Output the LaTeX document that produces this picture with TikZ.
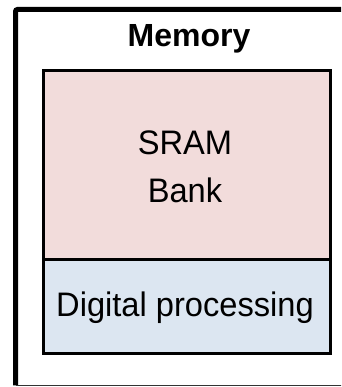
\documentclass[tikz,border=0pt]{standalone}
\usepackage{fontspec}
\setmainfont{Liberation Sans}
\newfontfamily\labelfont[FakeStretch=0.96]{Liberation Sans}
\definecolor{sramfill}{HTML}{F2DCDB}
\definecolor{procfill}{HTML}{DCE6F1}
\begin{document}
\begin{tikzpicture}[x=1pt,y=-1pt,
  block/.style={draw=black, line width=3pt, inner sep=0pt},
  lbl/.style={font=\labelfont\fontsize{34}{48}\selectfont, align=center, inner sep=0pt}]
\useasboundingbox (0,0) rectangle (341,387);
\clip (0,0) rectangle (341,387);
% outer memory frame (runs past the right edge)
\coordinate (frameTR) at (350,9.5);
\coordinate (frameTL) at (15.5,9.5);
\coordinate (frameBL) at (15.5,385.3);
\coordinate (frameBR) at (350,385.3);
\draw[line width=5pt, rounded corners=2pt] (frameTR) -- (frameTL) -- (frameBL);
\draw[line width=1.6pt, black!80] (frameBL) -- (frameBR);
\node[font=\fontsize{32}{38}\selectfont\bfseries, inner sep=0pt, anchor=base] (title) at (189,46.7) {Memory};
% SRAM bank and digital processing blocks
\node[block, fill=sramfill, minimum width=287pt, minimum height=188.5pt, anchor=north west] (sram) at (41.5,69.5) {};
\node[block, fill=procfill, minimum width=287pt, minimum height=93.5pt, anchor=north west] (dproc) at (41.5,258) {};
\node[lbl, anchor=base] (sramtxt) at (185,202) {SRAM\\Bank};
\node[lbl, anchor=base] (dproctxt) at (185,316.5) {Digital processing};
\end{tikzpicture}
\end{document}
